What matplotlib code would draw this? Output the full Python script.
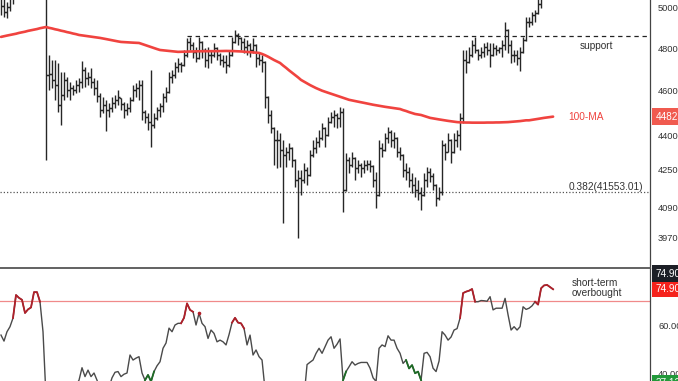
import matplotlib
matplotlib.use("Agg")
import matplotlib.pyplot as plt
import matplotlib.transforms as mtransforms
from matplotlib.ticker import FixedLocator, FixedFormatter, NullLocator
import numpy as np

plt.rcParams['font.family'] = ['Liberation Sans', 'DejaVu Sans']

# 4h BTC bars (USD)
bar_open = [
    50700, 50100, 49800, 50050, 50700, 51100, 51500, 51800, 52100, 52400,
    52600, 52400, 52200, 52000, 51800, 51400, 46750, 46790, 46510, 46280,
    45350, 45820, 46510, 46050, 46140, 46050, 46280, 46420, 46980, 46600,
    46650, 46420, 46140, 45780, 45120, 45350, 45120, 45210, 45450, 45590,
    45680, 45400, 45120, 45210, 45590, 46050, 46140, 46280, 45030, 44810,
    44590, 44450, 44770, 45120, 45310, 45730, 45960, 46650, 46745, 47120,
    47260, 47215, 47690, 48320, 48175, 47840, 47550, 48320, 47930, 47455,
    47690, 47690, 48030, 47690, 47455, 47360, 47215, 47690, 48320, 48660,
    48515, 48320, 48080, 48175, 47930, 48175, 47550, 47455, 47360, 45730,
    44900, 44320, 43790, 43790, 43350, 43140, 43270, 43440, 42920, 42070,
    42150, 42070, 42490, 42280, 43140, 43440, 43700, 43880, 44320, 44010,
    44590, 44810, 44900, 44770, 45030, 41650, 42920, 42710, 43010, 42580,
    42710, 42580, 42710, 42750, 42670, 42070, 41440, 43440, 43350, 43880,
    44140, 43790, 43880, 43270, 43140, 42490, 42410, 42070, 41860, 41650,
    41530, 41440, 42070, 42410, 42240, 41860, 41310, 41570, 43570, 43270,
    43790, 43270, 43790, 44010, 44770, 47455, 47360, 47690, 48175, 47930,
    47690, 47840, 48080, 47930, 47690, 48030, 47930, 48030, 48175, 48905,
    48175, 47690, 47690, 47550, 47840, 48420, 49300, 49300, 49650, 49750,
    50200, 50600, 51100, 51500, 51800,
]
bar_high = [
    51000, 50500, 50300, 50900, 51300, 51700, 52000, 52300, 52600, 52900,
    52950, 52800, 52600, 52400, 52100, 51600, 47690, 47455, 47455, 47310,
    46890, 46890, 46650, 46420, 46280, 46510, 46600, 47400, 47120, 46890,
    47070, 46600, 46510, 45910, 45730, 45590, 45450, 45730, 45820, 46050,
    45680, 45500, 45450, 45730, 46280, 46370, 46510, 46510, 45120, 44990,
    46980, 44990, 45260, 45450, 45910, 46190, 46890, 46980, 47360, 47550,
    47360, 47930, 48515, 48560, 48320, 48080, 48560, 48350, 48030, 48080,
    47930, 48270, 48080, 47790, 47690, 47690, 47930, 48560, 48905, 48760,
    48560, 48515, 48420, 48270, 48515, 48200, 47790, 47690, 47400, 45760,
    45120, 44360, 44230, 44100, 43790, 43480, 43660, 43480, 42950, 42490,
    42490, 42790, 42620, 43350, 43790, 43920, 44230, 44540, 44360, 44810,
    45030, 45120, 44990, 45260, 45210, 43230, 43050, 43270, 43050, 42920,
    42790, 42920, 42920, 42920, 42710, 42410, 43790, 43660, 44100, 44360,
    44230, 44140, 43900, 43480, 43160, 42790, 42620, 42370, 42200, 42070,
    41780, 42370, 42620, 42580, 42370, 41880, 41780, 43790, 43660, 44100,
    43820, 44100, 44230, 44990, 47930, 47930, 48080, 48420, 48560, 47960,
    48080, 48270, 48320, 48270, 48270, 48175, 48080, 48420, 49300, 48930,
    48420, 47930, 47930, 48080, 48560, 49550, 49550, 49800, 49900, 50500,
    50800, 51300, 51700, 52000, 52300,
]
bar_low = [
    49650, 49550, 49500, 49850, 50200, 50800, 51200, 51500, 51800, 52000,
    52200, 51900, 51800, 51500, 51100, 42900, 46050, 46140, 45590, 45030,
    44450, 45590, 45730, 45590, 45820, 45910, 45960, 46140, 46190, 46280,
    46140, 45820, 45500, 44810, 44990, 44190, 44810, 45030, 45210, 45350,
    45120, 44770, 44900, 45030, 45550, 45730, 45590, 44680, 44540, 44230,
    43480, 44320, 44680, 44810, 45030, 45500, 45910, 46370, 46600, 46890,
    46890, 47180, 47600, 47930, 47550, 47360, 47500, 47550, 47120, 47070,
    47310, 47600, 47455, 47215, 47120, 46840, 47120, 47650, 48270, 48175,
    47930, 47790, 47690, 47600, 47790, 47120, 47215, 46890, 45210, 44540,
    44100, 42710, 42580, 42620, 40290, 42620, 42920, 42620, 41780, 39690,
    41440, 41940, 41860, 42250, 43050, 43230, 43480, 43790, 43480, 43980,
    44540, 44360, 44320, 44360, 40740, 41600, 42370, 42620, 42070, 42370,
    42200, 42370, 42490, 42410, 41780, 40900, 41400, 43050, 43300, 43660,
    43480, 43440, 43050, 42920, 42200, 42070, 41780, 41530, 41360, 41230,
    40820, 41400, 41780, 41990, 41650, 40980, 41230, 41440, 42920, 43250,
    42790, 43230, 43480, 43350, 44540, 46840, 47310, 47600, 47790, 47455,
    47550, 47600, 47690, 47120, 47650, 47690, 47790, 47600, 47930, 47790,
    47310, 47360, 47215, 46930, 47790, 48380, 49050, 49150, 49300, 49700,
    50000, 50500, 50800, 51200, 51500,
]
bar_close = [
    50100, 49800, 50050, 50700, 51100, 51500, 51800, 52100, 52400, 52600,
    52400, 52200, 52000, 51800, 51400, 46750, 46790, 46510, 46280, 45350,
    45820, 46510, 46050, 46140, 46050, 46280, 46420, 46980, 46600, 46650,
    46420, 46140, 45780, 45120, 45350, 45120, 45210, 45450, 45590, 45730,
    45400, 45120, 45210, 45590, 46050, 46140, 46280, 45030, 44810, 44590,
    44450, 44770, 45120, 45310, 45730, 45960, 46650, 46745, 47120, 47260,
    47215, 47690, 48320, 48175, 47840, 47550, 48320, 47930, 47455, 47690,
    47690, 48030, 47690, 47455, 47360, 47215, 47690, 48320, 48660, 48515,
    48320, 48080, 48175, 47930, 48175, 47550, 47455, 47360, 45730, 44900,
    44320, 43790, 43790, 43350, 43140, 43270, 43440, 42920, 42070, 42150,
    42070, 42490, 42280, 43140, 43440, 43700, 43880, 44320, 44010, 44590,
    44810, 44900, 44770, 45030, 41650, 42920, 42710, 43010, 42580, 42710,
    42580, 42710, 42750, 42670, 42070, 41440, 43440, 43350, 43880, 44140,
    43790, 43880, 43270, 43140, 42490, 42410, 42070, 41860, 41650, 41530,
    41440, 42070, 42410, 42240, 41860, 41310, 41570, 43570, 43270, 43790,
    43270, 43790, 44010, 44770, 47455, 47360, 47690, 48175, 47930, 47690,
    47840, 48080, 47930, 47690, 48030, 47930, 48030, 48175, 48905, 48175,
    47690, 47690, 47550, 47840, 48420, 49300, 49300, 49650, 49750, 50200,
    50600, 51100, 51500, 51800, 52100,
]
ma100 = [
    48565, 48600, 48630, 48660, 48690, 48720, 48760, 48790, 48820, 48860,
    48890, 48920, 48950, 48990, 49020, 49050, 49010, 48980, 48940, 48910,
    48870, 48840, 48800, 48770, 48730, 48700, 48660, 48640, 48620, 48600,
    48580, 48560, 48540, 48515, 48490, 48460, 48430, 48400, 48370, 48345,
    48320, 48310, 48300, 48290, 48285, 48280, 48270, 48220, 48170, 48120,
    48070, 48020, 47975, 47930, 47915, 47900, 47885, 47870, 47855, 47840,
    47845, 47850, 47855, 47860, 47865, 47870, 47870, 47870, 47870, 47870,
    47870, 47875, 47875, 47880, 47880, 47885, 47885, 47880, 47875, 47870,
    47860, 47850, 47840, 47830, 47815, 47800, 47790, 47740, 47680, 47610,
    47530, 47450, 47380, 47310, 47190, 47080, 46960, 46850, 46740, 46630,
    46510, 46430, 46350, 46270, 46200, 46130, 46070, 46010, 45960, 45915,
    45870, 45820, 45775, 45730, 45685, 45640, 45590, 45560, 45535, 45505,
    45480, 45450, 45420, 45395, 45365, 45340, 45310, 45290, 45270, 45250,
    45230, 45210, 45190, 45170, 45120, 45080, 45030, 44990, 44945, 44920,
    44900, 44855, 44810, 44770, 44745, 44725, 44700, 44680, 44660, 44635,
    44615, 44590, 44580, 44570, 44565, 44560, 44560, 44555, 44555, 44555,
    44555, 44555, 44560, 44560, 44560, 44565, 44565, 44570, 44575, 44580,
    44590, 44600, 44610, 44625, 44640, 44660, 44660, 44680, 44700, 44725,
    44750, 44770, 44790, 44810, 44825,
]
rsi = [
    55.8, 53.3, 57.2, 59.3, 62.9, 72.5, 71.3, 70.5, 65.0, 66.5,
    67.3, 73.7, 73.7, 69.7, 57.2, 30.0, 32.0, 33.0, 31.0, 29.0,
    31.0, 30.0, 33.0, 32.0, 34.0, 35.0, 37.0, 42.2, 38.5, 41.2,
    38.5, 40.0, 37.0, 33.0, 34.0, 31.0, 34.0, 38.0, 40.3, 40.6,
    38.5, 39.5, 40.0, 47.5, 45.4, 46.2, 46.8, 40.0, 37.0, 39.2,
    36.5, 40.6, 43.0, 44.7, 50.3, 52.5, 58.7, 57.2, 60.0, 60.7,
    60.7, 63.0, 69.0, 66.3, 65.5, 60.0, 64.9, 60.7, 59.3, 54.4,
    57.9, 56.5, 53.0, 53.7, 53.0, 51.7, 56.0, 61.0, 63.0, 61.0,
    60.7, 58.6, 51.7, 55.8, 47.5, 49.6, 46.8, 45.4, 33.0, 28.0,
    25.0, 24.0, 25.0, 22.0, 21.0, 23.0, 24.0, 22.0, 20.0, 18.0,
    22.0, 30.0, 43.5, 44.5, 45.4, 48.2, 50.3, 48.2, 51.0, 53.7,
    55.1, 50.3, 52.0, 54.2, 37.0, 40.6, 42.6, 44.7, 43.3, 44.0,
    44.4, 44.4, 44.4, 42.0, 38.0, 36.5, 50.3, 51.7, 51.0, 55.5,
    53.7, 53.7, 50.3, 48.2, 44.0, 45.4, 41.9, 43.3, 39.9, 40.6,
    37.0, 48.2, 48.6, 46.8, 42.0, 40.6, 45.0, 57.2, 55.8, 53.7,
    55.0, 57.9, 58.5, 62.9, 73.3, 73.9, 74.3, 75.0, 69.7, 69.7,
    70.2, 70.1, 69.9, 71.8, 66.3, 67.0, 67.0, 67.0, 71.1, 64.2,
    57.9, 59.3, 57.9, 59.3, 67.6, 66.5, 67.0, 68.0, 69.7, 68.5,
    75.3, 76.5, 76.7, 75.8, 74.9,
]
# bar-index runs where the RSI is flagged overbought / oversold
rsi_hot_runs = [(4, 13), (60, 64), (66, 66), (77, 81), (153, 158), (178, 184)]
rsi_cold_runs = [(48, 51), (114, 115), (135, 140)]
rsi_overbought = 70
rsi_low_marker = 37.12

support = 48600
support_from = 62       # bar of first touch
fib_level = 41553.01
price_ticks = [50000, 48000, 46000, 44000, 42500, 40900, 39700, 38500]
rsi_ticks = [60, 40]

BAR = '#262626'
RED = '#f0433f'
AXC = '#444444'
TXT = '#333333'

W, H = 678, 381
fig = plt.figure(figsize=(W / 100, H / 100), dpi=100, facecolor='white')
ax = fig.add_axes([0, 113 / H, 650 / W, 268 / H])
ax2 = fig.add_axes([0, 0, 650 / W, 113 / H])

x = np.arange(len(bar_close))
xlim = (-1 / 3, 216.3)

# --- price panel ---
ax.vlines(x, bar_low, bar_high, color=BAR, lw=1.0, zorder=2)
ax.hlines(bar_open, x - 0.55, x, color=BAR, lw=1.0, zorder=2)
ax.hlines(bar_close, x, x + 0.55, color=BAR, lw=1.0, zorder=2)
ax.plot(x, ma100, color=RED, lw=1.9, zorder=3, solid_capstyle='round')
ax.hlines(support, support_from, xlim[1], color='#222222', lw=0.9,
          linestyles=(0, (3.5, 3)), zorder=1)
ax.axhline(fib_level, color='#555555', lw=0.9, ls=(0, (1, 1.6)), zorder=1)

ax.set_yscale('log')
ax.set_ylim(38500, 50400)
ax.set_xlim(*xlim)
ax.set_xticks([])
ax.yaxis.tick_right()
ax.yaxis.set_major_locator(FixedLocator(price_ticks))
ax.yaxis.set_major_formatter(FixedFormatter([str(v) for v in price_ticks]))
ax.yaxis.set_minor_locator(NullLocator())
ax.tick_params(axis='y', length=0, pad=5.8, labelsize=6.7, labelcolor=TXT)
for s in ('top', 'left', 'bottom'):
    ax.spines[s].set_visible(False)
ax.spines['right'].set_color(AXC)
ax.spines['right'].set_linewidth(0.9)

blend = mtransforms.blended_transform_factory(ax.transAxes, ax.transData)
ax.text(0.917, 0.828, 'support', transform=ax.transAxes, ha='center',
        va='center', fontsize=7.3, color=TXT)
ax.text(0.874, ma100[-1], '100-MA', transform=blend, ha='left',
        va='center', fontsize=7.3, color=RED)
ax.text(0.989, fib_level, f'0.382({fib_level:.2f})', transform=blend,
        ha='right', va='bottom', fontsize=7.3, color=TXT)
ax.annotate(f'{ma100[-1]:.0f}', xy=(1, ma100[-1]), xycoords=blend,
            xytext=(3.8, 0), textcoords='offset points', ha='left',
            va='center', fontsize=7.2, color='white', annotation_clip=False,
            bbox=dict(boxstyle='square,pad=0.32', fc='#f05a4f', ec='none'))

# --- RSI panel ---
ax2.plot(x, rsi, color='#4a4a4a', lw=1.0, zorder=2)
for a, b in rsi_hot_runs:
    ax2.plot(x[a:b + 1], rsi[a:b + 1], color='#b0202a', lw=1.3, zorder=3,
             marker='o' if a == b else None, ms=1.6)
for a, b in rsi_cold_runs:
    ax2.plot(x[a:b + 1], rsi[a:b + 1], color='#1e6b26', lw=1.3, zorder=3)
ax2.axhline(rsi_overbought, color='#f08a8a', lw=0.9, zorder=1)
ax2.text(0.88, 0.82, 'short-term\noverbought', transform=ax2.transAxes,
         ha='left', va='center', fontsize=7.3, color=TXT, linespacing=1.0)

ax2.set_ylim(36.67, 83.75)
ax2.set_xlim(*xlim)
ax2.set_xticks([])
ax2.yaxis.tick_right()
ax2.set_yticks(rsi_ticks)
ax2.set_yticklabels([f'{v:.2f}' for v in rsi_ticks])
ax2.tick_params(axis='y', length=0, pad=5.8, labelsize=6.7, labelcolor=TXT)
ax2.spines['left'].set_visible(False)
ax2.spines['bottom'].set_visible(False)
ax2.spines['top'].set_color('#555555')
ax2.spines['top'].set_linewidth(1.3)
ax2.spines['right'].set_color(AXC)
ax2.spines['right'].set_linewidth(0.9)

blend2 = mtransforms.blended_transform_factory(ax2.transAxes, ax2.transData)
box = dict(fontsize=7.2, color='white', ha='left', va='center',
           textcoords='offset points', annotation_clip=False, zorder=5)
ax2.annotate(f'{rsi[-1]:.2f}', xy=(1, rsi[-1]), xycoords=blend2,
             xytext=(3.8, 0), bbox=dict(boxstyle='square,pad=0.32',
                                        fc='#f5221c', ec='none'), **box)
ax2.annotate(f'{rsi[-1]:.2f}', xy=(1, rsi[-1]), xycoords=blend2,
             xytext=(3.8, 11.2), bbox=dict(boxstyle='square,pad=0.32',
                                           fc='#1c1f26', ec='none'), **box)
ax2.annotate(f'{rsi_low_marker:.2f}', xy=(1, 0), xycoords='axes fraction',
             xytext=(3.8, -1.5), bbox=dict(boxstyle='square,pad=0.32',
                                           fc='#22993a', ec='none'), **box)

fig.savefig('out.png', dpi=100, facecolor='white')
